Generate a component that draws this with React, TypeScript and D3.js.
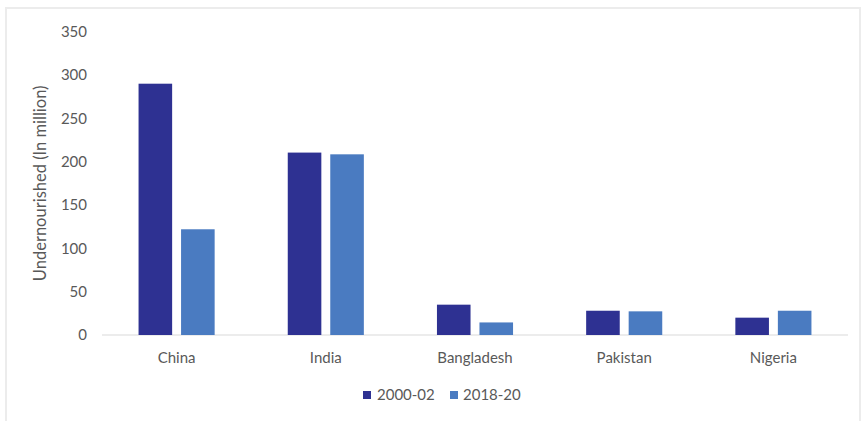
import React from "react";
import * as d3 from "d3";

const categories = ["China", "India", "Bangladesh", "Pakistan", "Nigeria"];
const seriesNames = ["2000-02", "2018-20"];
const values2000 = [290, 210.5, 35, 28, 20];
const values2018 = [122, 208.5, 14.5, 27.3, 28];
const yTicks = [0, 50, 100, 150, 200, 250, 300, 350];
const colors = ["#2e3192", "#4a7bc1"];

const W = 863;
const H = 421;

export default function App() {
  const x0 = d3
    .scaleBand<string>()
    .domain(categories)
    .range([102, 848])
    .paddingInner(0.49)
    .paddingOuter(0.245);
  const x1 = d3
    .scaleBand<string>()
    .domain(seriesNames)
    .range([0, x0.bandwidth()])
    .paddingInner(0.21);
  const y = d3.scaleLinear().domain([0, 350]).range([335, 31.7]);
  const data = [values2000, values2018];
  const font = "Lato, 'Open Sans', sans-serif";
  const textColor = "#595959";

  return (
    <svg
      width={W}
      height={H}
      style={{ position: "absolute", left: 0, top: 0, background: "#fff" }}
      fontFamily={font}
    >
      <rect x={6} y={8} width={854} height={420} fill="#fff" stroke="#ececec" strokeWidth={2} />
      {yTicks.map((t) => (
        <text
          key={t}
          x={87}
          y={y(t)}
          dy="0.35em"
          textAnchor="end"
          fontSize={15}
          fill={textColor}
        >
          {t}
        </text>
      ))}
      <text
        transform={`translate(40,${(y(0) + y(350)) / 2}) rotate(-90)`}
        textAnchor="middle"
        dy="0.35em"
        fontSize={16.5}
        fill={textColor}
      >
        Undernourished (In million)
      </text>
      <line x1={102} x2={848} y1={y(0)} y2={y(0)} stroke="#d9d9d9" strokeWidth={1} />
      {categories.map((c, i) => (
        <g key={c} transform={`translate(${x0(c)},0)`}>
          {seriesNames.map((s, j) => (
            <rect
              key={s}
              x={x1(s)}
              y={y(data[j][i])}
              width={x1.bandwidth()}
              height={y(0) - y(data[j][i])}
              fill={colors[j]}
            />
          ))}
          <text
            x={x0.bandwidth() / 2}
            y={358}
            dy="0.35em"
            textAnchor="middle"
            fontSize={15}
            fill={textColor}
          >
            {c}
          </text>
        </g>
      ))}
      <g>
        <rect x={363} y={391} width={8} height={8} fill={colors[0]} />
        <text x={377} y={395} dy="0.35em" fontSize={15} fill={textColor}>
          {seriesNames[0]}
        </text>
        <rect x={450} y={391} width={8} height={8} fill={colors[1]} />
        <text x={463} y={395} dy="0.35em" fontSize={15} fill={textColor}>
          {seriesNames[1]}
        </text>
      </g>
    </svg>
  );
}
